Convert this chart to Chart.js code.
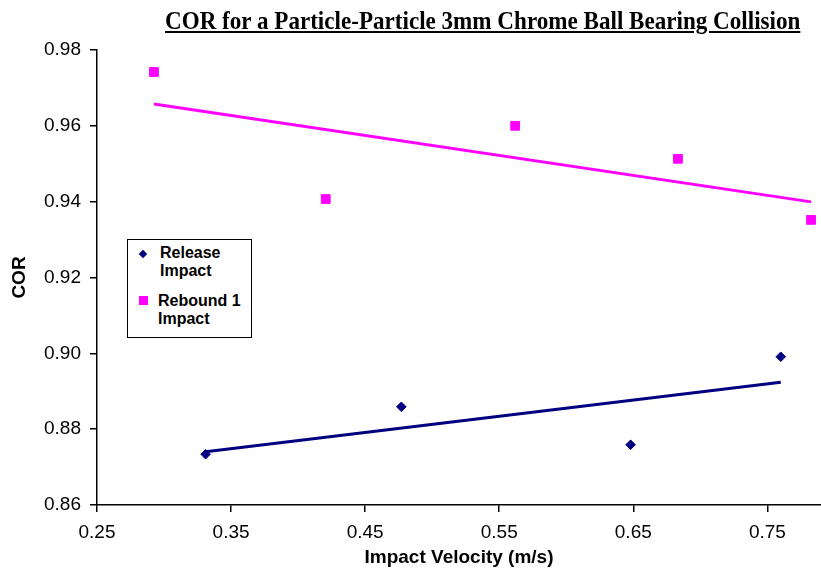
<!DOCTYPE html>
<html>
<head>
<meta charset="utf-8">
<script src="https://cdn.jsdelivr.net/npm/chart.js@4.4.1/dist/chart.umd.min.js"></script>
<style>
  body { margin: 0; background: #fff; overflow: hidden; }
  #wrap { position: relative; width: 821px; height: 570px; }
  #title {
    position: absolute; right: 21px; top: 6px;
    font-family: "Liberation Serif", "Times New Roman", serif;
    font-weight: bold; font-size: 26px; line-height: 30px; text-decoration: underline;
    white-space: nowrap; transform-origin: right center;
  }
  #legend {
    position: absolute; left: 127px; top: 239px; width: 123px; height: 97px;
    border: 1.5px solid #000; background: #fff;
    font-family: "Liberation Sans", Arial, sans-serif; font-weight: bold;
    font-size: 16px; line-height: 18px; color: #000;
  }
  .item { position: absolute; left: 32px; width: 88px; }
  .mark { position: absolute; }
</style>
</head>
<body>
<div id="wrap">
  <canvas id="chart" width="821" height="570"></canvas>
  <div id="title"></div>
  <div id="legend"></div>
</div>
<script>
// chart data
const chartTitle = 'COR for a Particle-Particle 3mm Chrome Ball Bearing Collision';
const seriesNames = ['Release Impact', 'Rebound 1 Impact'];
const seriesColors = ['#000080', '#ff00ff'];

const releaseX = [0.331, 0.477, 0.648, 0.760];
const releaseY = [0.8734, 0.8859, 0.8759, 0.8991];

const reboundX = [0.2925, 0.4206, 0.5619, 0.6833, 0.7826];
const reboundY = [0.9742, 0.9407, 0.9600, 0.9513, 0.9352];

const xTicks = [0.25, 0.35, 0.45, 0.55, 0.65, 0.75];
const yTicks = [0.86, 0.88, 0.90, 0.92, 0.94, 0.96, 0.98];

// least squares trendline, from first to last x
function trend(xs, ys){
  const n = xs.length;
  const mx = xs.reduce((a, b) => a + b, 0) / n;
  const my = ys.reduce((a, b) => a + b, 0) / n;
  let sxy = 0, sxx = 0;
  for (let i = 0; i < n; i++){
    sxy += (xs[i] - mx) * (ys[i] - my);
    sxx += (xs[i] - mx) * (xs[i] - mx);
  }
  const k = sxy / sxx;
  const x0 = Math.min(...xs), x1 = Math.max(...xs);
  return [{x: x0, y: my + k * (x0 - mx)}, {x: x1, y: my + k * (x1 - mx)}];
}

const pts = (xs, ys) => xs.map((x, i) => ({x: x, y: ys[i]}));

// title
const t = document.querySelector('#title');
t.textContent = chartTitle;
t.style.transform = 'scaleX(' + (635 / t.offsetWidth) + ')';

// legend
const legend = document.querySelector('#legend');
legend.innerHTML =
  '<div class="mark" style="left:12px;top:11px;width:6px;height:6px;background:' + seriesColors[0] + ';transform:rotate(45deg)"></div>' +
  '<div class="item" style="top:4px">' + seriesNames[0] + '</div>' +
  '<div class="mark" style="left:11px;top:56px;width:9px;height:9px;background:' + seriesColors[1] + '"></div>' +
  '<div class="item" style="top:52px;left:30px">' + seriesNames[1] + '</div>';

const tickFont = {family: '"Liberation Sans", Arial, sans-serif', size: 19};
const titleFont = {family: '"Liberation Sans", Arial, sans-serif', size: 19, weight: 'bold'};

new Chart(document.querySelector('#chart'), {
  type: 'scatter',
  data: {
    datasets: [
      {
        label: seriesNames[0], data: pts(releaseX, releaseY),
        pointStyle: 'rectRot', pointRadius: 4.8, pointBorderWidth: 1,
        backgroundColor: seriesColors[0], borderColor: seriesColors[0], clip: false
      },
      {
        label: seriesNames[1], data: pts(reboundX, reboundY),
        pointStyle: 'rect', pointRadius: 6.2, pointBorderWidth: 1,
        backgroundColor: seriesColors[1], borderColor: seriesColors[1], clip: false
      },
      {
        label: 'trend 1', data: trend(releaseX, releaseY), showLine: true,
        pointRadius: 0, borderWidth: 3, borderColor: seriesColors[0], clip: false
      },
      {
        label: 'trend 2', data: trend(reboundX, reboundY), showLine: true,
        pointRadius: 0, borderWidth: 3, borderColor: seriesColors[1], clip: false
      }
    ]
  },
  options: {
    responsive: false,
    animation: false,
    devicePixelRatio: 1,
    layout: {autoPadding: false, padding: {top: 50, right: 0, left: 0, bottom: 0}},
    plugins: {legend: {display: false}, tooltip: {enabled: false}},
    scales: {
      x: {
        type: 'linear', min: 0.25, max: 0.79,
        afterBuildTicks: s => { s.ticks = xTicks.map(v => ({value: v})); },
        afterFit: s => { s.height = 65; s.paddingLeft = 0; s.paddingRight = 0; },
        border: {display: true, color: '#000', width: 1.5},
        grid: {drawOnChartArea: false, drawTicks: true, tickLength: 7, color: '#000', lineWidth: 1.5},
        ticks: {font: tickFont, color: '#000', padding: 9, maxRotation: 0,
                callback: v => v.toFixed(2)},
        title: {display: true, text: 'Impact Velocity (m/s)', font: titleFont, color: '#000',
                padding: {top: 0, bottom: 1}}
      },
      y: {
        min: 0.86, max: 0.98,
        afterBuildTicks: s => { s.ticks = yTicks.map(v => ({value: v})); },
        afterFit: s => { s.width = 97; s.paddingTop = 0; s.paddingBottom = 0; },
        border: {display: true, color: '#000', width: 1.5},
        grid: {drawOnChartArea: false, drawTicks: true, tickLength: 7, color: '#000', lineWidth: 1.5},
        ticks: {font: tickFont, color: '#000', padding: 9,
                callback: v => v.toFixed(2)},
        title: {display: true, text: 'COR', font: titleFont, color: '#000',
                padding: {top: 8, bottom: 0}}
      }
    }
  }
});
</script>
</body>
</html>
